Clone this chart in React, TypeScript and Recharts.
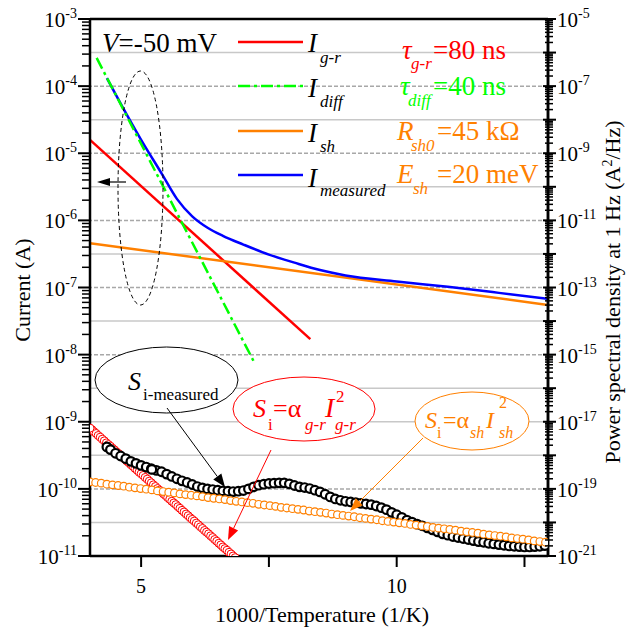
import React from 'react';
import { ComposedChart, Line, Scatter, XAxis, YAxis, ReferenceLine } from 'recharts';

const FONT = '"Liberation Serif", "Times New Roman", serif';
const RED = '#FF0000';
const GREEN = '#00FF00';
const ORANGE = '#FF8000';
const BLUE = '#0000FF';

// ---- Current curves: x = 1000/T (1/K), value = log10(I / A) ----
const grX = [4.0, 8.31];
const grLog = [-4.8, -7.77];
const diffX = [4.13, 7.23];
const diffLog = [-3.58, -8.14];
const shX = [4.0, 12.96];
const shLog = [-6.34, -7.26];
const measX = [4.33, 4.6, 5.0, 5.4, 5.7, 6.0, 6.3, 6.6, 7.0, 7.5, 8.0, 8.5, 9.0, 10.0, 11.0, 12.0, 12.96];
const measLog = [-3.88, -4.26, -4.8, -5.3, -5.68, -5.94, -6.11, -6.23, -6.36, -6.51, -6.63, -6.74, -6.82, -6.91, -6.99, -7.08, -7.17];

// ---- Noise spectra at 1 Hz: [x, log10(S / A^2Hz^-1)] (draw order as listed) ----
const sGr: number[][] = [
  [4.04, -17.24], [4.08, -17.3], [4.12, -17.35], [4.16, -17.41], [4.2, -17.46], [4.24, -17.52], [4.28, -17.57],
  [4.32, -17.63], [4.36, -17.68], [4.4, -17.73], [4.44, -17.79], [4.48, -17.84], [4.52, -17.9], [4.56, -17.95],
  [4.6, -18.01], [4.64, -18.06], [4.68, -18.11], [4.72, -18.17], [4.76, -18.22], [4.8, -18.28], [4.84, -18.33],
  [4.88, -18.39], [4.92, -18.44], [4.96, -18.5], [5.0, -18.55], [5.04, -18.6], [5.08, -18.66], [5.12, -18.71],
  [5.16, -18.77], [5.2, -18.82], [5.24, -18.88], [5.28, -18.93], [5.32, -18.99], [5.36, -19.04], [5.4, -19.09],
  [5.44, -19.15], [5.48, -19.2], [5.52, -19.26], [5.56, -19.31], [5.6, -19.37], [5.64, -19.42], [5.68, -19.47],
  [5.72, -19.53], [5.76, -19.58], [5.8, -19.64], [5.84, -19.69], [5.88, -19.75], [5.92, -19.8], [5.96, -19.86],
  [6.0, -19.91], [6.04, -19.96], [6.08, -20.02], [6.12, -20.07], [6.16, -20.13], [6.2, -20.18], [6.24, -20.24],
  [6.28, -20.29], [6.32, -20.34], [6.36, -20.4], [6.4, -20.45], [6.44, -20.51], [6.48, -20.56], [6.52, -20.62],
  [6.56, -20.67], [6.6, -20.73], [6.64, -20.78], [6.68, -20.83], [6.72, -20.89], [6.76, -20.94], [6.8, -21.0],
  [6.84, -21.05], [4.0, -17.19],
];

const sMeas: number[][] = [
  [4.33, -17.75], [4.4, -17.83], [4.5, -17.94], [4.6, -18.02], [4.7, -18.1], [4.8, -18.18], [4.9, -18.24],
  [5.0, -18.3], [5.1, -18.35], [5.2, -18.4], [5.3, -18.45], [5.4, -18.49], [5.5, -18.56], [5.6, -18.63],
  [5.7, -18.7], [5.8, -18.76], [5.9, -18.81], [6.0, -18.87], [6.1, -18.93], [6.2, -18.97], [6.3, -19.0],
  [6.4, -19.02], [6.5, -19.04], [6.6, -19.06], [6.7, -19.07], [6.8, -19.08], [6.9, -19.07], [7.0, -19.05],
  [7.1, -19.0], [7.2, -18.94], [7.3, -18.89], [7.4, -18.86], [7.5, -18.84], [7.6, -18.83], [7.7, -18.82],
  [7.8, -18.82], [7.9, -18.85], [8.0, -18.9], [8.1, -18.94], [8.2, -18.96], [8.3, -18.99], [8.4, -19.04],
  [8.5, -19.09], [8.6, -19.16], [8.7, -19.24], [8.8, -19.3], [8.9, -19.34], [9.0, -19.37], [9.1, -19.39],
  [9.2, -19.41], [9.3, -19.43], [9.4, -19.45], [9.5, -19.47], [9.6, -19.51], [9.7, -19.56], [9.8, -19.62],
  [9.9, -19.7], [10.0, -19.77], [10.1, -19.85], [10.2, -19.93], [10.3, -19.99], [10.4, -20.05], [10.5, -20.1],
  [10.6, -20.16], [10.7, -20.22], [10.8, -20.28], [10.9, -20.34], [11.0, -20.38], [11.1, -20.42], [11.2, -20.45],
  [11.3, -20.48], [11.4, -20.51], [11.5, -20.54], [11.6, -20.57], [11.7, -20.59], [11.8, -20.62], [11.9, -20.64],
  [12.0, -20.66], [12.1, -20.68], [12.2, -20.7], [12.3, -20.71], [12.4, -20.72], [12.5, -20.73], [12.6, -20.73],
  [12.7, -20.72], [12.8, -20.71], [12.9, -20.69], [5.21, -18.42],
];

const sSh: number[][] = [
  [4.0, -18.79], [4.11, -18.81], [4.22, -18.83], [4.33, -18.86], [4.44, -18.88], [4.55, -18.9], [4.66, -18.92],
  [4.77, -18.95], [4.88, -18.97], [4.99, -18.99], [5.1, -19.01], [5.21, -19.03], [5.32, -19.06], [5.43, -19.08],
  [5.54, -19.1], [5.65, -19.12], [5.76, -19.15], [5.87, -19.17], [5.98, -19.19], [6.09, -19.21], [6.2, -19.23],
  [6.31, -19.26], [6.42, -19.28], [6.53, -19.3], [6.64, -19.32], [6.75, -19.35], [6.86, -19.37], [6.97, -19.39],
  [7.08, -19.41], [7.19, -19.43], [7.3, -19.46], [7.41, -19.48], [7.52, -19.5], [7.63, -19.52], [7.74, -19.55],
  [7.85, -19.57], [7.96, -19.59], [8.07, -19.61], [8.18, -19.63], [8.29, -19.66], [8.4, -19.68], [8.51, -19.7],
  [8.62, -19.72], [8.73, -19.75], [8.84, -19.77], [8.95, -19.79], [9.06, -19.81], [9.17, -19.83], [9.28, -19.86],
  [9.39, -19.88], [9.5, -19.9], [9.61, -19.92], [9.72, -19.95], [9.83, -19.97], [9.94, -19.99], [10.05, -20.01],
  [10.16, -20.03], [10.27, -20.06], [10.38, -20.08], [10.49, -20.1], [10.6, -20.12], [10.71, -20.15], [10.82, -20.17],
  [10.93, -20.19], [11.04, -20.21], [11.15, -20.23], [11.26, -20.26], [11.37, -20.28], [11.48, -20.3], [11.59, -20.32],
  [11.7, -20.35], [11.81, -20.37], [11.92, -20.39], [12.03, -20.41], [12.14, -20.43], [12.25, -20.46], [12.36, -20.48],
  [12.47, -20.5], [12.58, -20.52], [12.69, -20.55], [12.8, -20.57], [12.91, -20.59],
];

// axis settings
const X_DOMAIN: [number, number] = [4, 12.96];
const X_TICKS = [5, 7.5, 10, 12.5];
const X_LABELED = [5, 10];
const I_DOMAIN: [number, number] = [-11, -3];
const S_DOMAIN: [number, number] = [-21, -5];
const GRID_DASHED = [-7, -9, -11, -13, -15, -19];
const GRID_SOLID = [-6, -8, -10, -12, -14, -16, -17, -18, -20];

const toPts = (xs: number[], ys: number[]) => xs.map((x, i) => ({ x, y: ys[i] }));
const pairPts = (arr: number[][]) => arr.map(([x, y]) => ({ x, y }));

const logTicks = (lo: number, hi: number) => {
  const t: number[] = [];
  for (let n = lo; n < hi; n++) {
    for (let k = 1; k <= 9; k++) t.push(n + Math.log10(k));
  }
  t.push(hi);
  return t;
};
const I_TICKS = logTicks(-11, -3);
const S_TICKS = logTicks(-21, -5);
const isInt = (v: number) => Math.abs(v - Math.round(v)) < 1e-6;

const LeftTick = (props: any) => {
  const { x, y, payload } = props;
  const v = payload.value;
  const major = isInt(v);
  return (
    <g>
      <line x1={x - (major ? 12 : 8)} x2={x} y1={y} y2={y} stroke="#000" strokeWidth={major ? 2 : 1.5} />
      {major && (
        <text x={x - 13} y={y + 8} textAnchor="end" fontFamily={FONT} fontSize={21} fill="#000">
          10<tspan dy={-9} fontSize={14}>{String(Math.round(v))}</tspan>
        </text>
      )}
    </g>
  );
};

const RightTick = (props: any) => {
  const { x, y, payload } = props;
  const v = payload.value;
  const major = isInt(v);
  const e = Math.round(v);
  return (
    <g>
      <line x1={x - (major ? 5 : 3)} x2={x + (major ? 8 : 5)} y1={y} y2={y} stroke="#000" strokeWidth={major ? 2 : 1.5} />
      {major && e % 2 !== 0 && (
        <text x={x + 9} y={y + 8} textAnchor="start" fontFamily={FONT} fontSize={21} fill="#000">
          10<tspan dy={-9} fontSize={14}>{String(e)}</tspan>
        </text>
      )}
    </g>
  );
};

const BottomTick = (props: any) => {
  const { x, y, payload } = props;
  const v = payload.value;
  return (
    <g>
      <line x1={x} x2={x} y1={y} y2={y + 11} stroke="#000" strokeWidth={2} />
      {X_LABELED.includes(v) && (
        <text x={x} y={y + 37} textAnchor="middle" fontFamily={FONT} fontSize={20} fill="#000">
          {String(v)}
        </text>
      )}
    </g>
  );
};

const circleShape = (stroke: string, r: number, sw: number) => (p: any) => (
  <circle cx={p.cx} cy={p.cy} r={r} fill="#fff" stroke={stroke} strokeWidth={sw} />
);

const Arrow = ({ x1, y1, x2, y2, color, len = 12, half = 4.5, sw = 1.2 }: any) => {
  const dx = x2 - x1;
  const dy = y2 - y1;
  const d = Math.hypot(dx, dy);
  const ux = dx / d;
  const uy = dy / d;
  const bx = x2 - ux * len;
  const by = y2 - uy * len;
  const px = -uy;
  const py = ux;
  return (
    <g>
      <line x1={x1} y1={y1} x2={bx} y2={by} stroke={color} strokeWidth={sw} />
      <polygon points={`${x2},${y2} ${bx + px * half},${by + py * half} ${bx - px * half},${by - py * half}`} fill={color} />
    </g>
  );
};

const T = (p: any) => <text fontFamily={FONT} {...p} />;

export default function App() {
  return (
    <div style={{ position: 'absolute', left: 0, top: 0, width: 627, height: 629, background: '#fff' }}>
      <ComposedChart width={627} height={629} margin={{ top: 19, right: 0, bottom: 0, left: 0 }}>
        <XAxis
          xAxisId="x"
          type="number"
          dataKey="x"
          domain={X_DOMAIN}
          allowDataOverflow
          ticks={X_TICKS}
          interval={0}
          height={73}
          tickSize={0}
          tickMargin={0}
          tickLine={false}
          tick={<BottomTick />}
          axisLine={{ stroke: '#000', strokeWidth: 2.5 }}
        />
        <YAxis
          yAxisId="I"
          orientation="left"
          type="number"
          dataKey="y"
          domain={I_DOMAIN}
          allowDataOverflow
          ticks={I_TICKS}
          interval={0}
          width={90}
          tickSize={0}
          tickMargin={0}
          tickLine={false}
          tick={<LeftTick />}
          axisLine={{ stroke: '#000', strokeWidth: 2.5 }}
        />
        <YAxis
          yAxisId="S"
          orientation="right"
          type="number"
          dataKey="y"
          domain={S_DOMAIN}
          allowDataOverflow
          ticks={S_TICKS}
          interval={0}
          width={79}
          tickSize={0}
          tickMargin={0}
          tickLine={false}
          tick={<RightTick />}
          axisLine={{ stroke: '#000', strokeWidth: 2.5 }}
        />
        {GRID_SOLID.map((e) => (
          <ReferenceLine key={'s' + e} xAxisId="x" yAxisId="S" y={e} stroke="#C8C8C8" strokeWidth={1.5} />
        ))}
        {GRID_DASHED.map((e) => (
          <ReferenceLine key={'d' + e} xAxisId="x" yAxisId="S" y={e} stroke="#A8A8A8" strokeWidth={1.5} strokeDasharray="4 2" />
        ))}
        <ReferenceLine xAxisId="x" yAxisId="I" y={I_DOMAIN[1]} stroke="#000" strokeWidth={2.5} />
        <ReferenceLine xAxisId="x" yAxisId="I" x={X_DOMAIN[1]} stroke="#000" strokeWidth={2.5} />

        <Scatter xAxisId="x" yAxisId="S" data={pairPts(sGr)} dataKey="y" isAnimationActive={false} shape={circleShape(RED, 4, 1)} />
        <Scatter xAxisId="x" yAxisId="S" data={pairPts(sMeas)} dataKey="y" isAnimationActive={false} shape={circleShape('#000', 4.3, 2.2)} />
        <Scatter xAxisId="x" yAxisId="S" data={pairPts(sSh)} dataKey="y" isAnimationActive={false} shape={circleShape(ORANGE, 3.8, 1.2)} />

        <Line xAxisId="x" yAxisId="I" data={toPts(grX, grLog)} dataKey="y" type="linear" stroke={RED} strokeWidth={2.5} dot={false} isAnimationActive={false} />
        <Line xAxisId="x" yAxisId="I" data={toPts(shX, shLog)} dataKey="y" type="linear" stroke={ORANGE} strokeWidth={2.5} dot={false} isAnimationActive={false} />
        <Line xAxisId="x" yAxisId="I" data={toPts(measX, measLog)} dataKey="y" type="monotone" stroke={BLUE} strokeWidth={2.5} dot={false} isAnimationActive={false} />
        <Line xAxisId="x" yAxisId="I" data={toPts(diffX, diffLog)} dataKey="y" type="linear" stroke={GREEN} strokeWidth={2.5} strokeDasharray="12 4 3 4" dot={false} isAnimationActive={false} />
      </ComposedChart>

      <svg width={627} height={629} style={{ position: 'absolute', left: 0, top: 0, pointerEvents: 'none' }}>
        {/* axis titles */}
        <T x={322} y={622} textAnchor="middle" fontSize={22} fill="#000">1000/Temperature (1/K)</T>
        <T transform="translate(30,290) rotate(-90)" textAnchor="middle" fontSize={22} fill="#000">Current (A)</T>
        <T transform="translate(620,292) rotate(-90)" textAnchor="middle" fontSize={22} fill="#000">
          Power spectral density at 1 Hz (A<tspan dy={-8} fontSize={14}>2</tspan><tspan dy={8}>/Hz)</tspan>
        </T>

        {/* legend */}
        <T x={102} y={52} fontSize={27} fill="#000"><tspan fontStyle="italic">V</tspan>=-50 mV</T>
        <line x1={238} x2={303} y1={42} y2={42} stroke={RED} strokeWidth={2.5} />
        <line x1={238} x2={303} y1={86} y2={86} stroke={GREEN} strokeWidth={2.5} strokeDasharray="12 4 3 4" />
        <line x1={238} x2={303} y1={131} y2={131} stroke={ORANGE} strokeWidth={2.5} />
        <line x1={238} x2={303} y1={175} y2={175} stroke={BLUE} strokeWidth={2.5} />
        <T x={308} y={52} fontSize={27} fontStyle="italic" fill="#000">I</T>
        <T x={320} y={63} fontSize={17} fontStyle="italic" fill="#000">g-r</T>
        <T x={308} y={97} fontSize={27} fontStyle="italic" fill="#000">I</T>
        <T x={320} y={107} fontSize={17} fontStyle="italic" fill="#000">diff</T>
        <T x={308} y={142} fontSize={27} fontStyle="italic" fill="#000">I</T>
        <T x={320} y={152} fontSize={17} fontStyle="italic" fill="#000">sh</T>
        <T x={308} y={187} fontSize={27} fontStyle="italic" fill="#000">I</T>
        <T x={320} y={196} fontSize={17} fontStyle="italic" fill="#000">measured</T>

        {/* parameters */}
        <T x={402} y={59} fontSize={27} fontStyle="italic" fill={RED}>τ</T>
        <T x={411} y={69} fontSize={17} fontStyle="italic" fill={RED}>g-r</T>
        <T x={433} y={59} fontSize={27} fill={RED}>=80 ns</T>
        <T x={400} y={95} fontSize={27} fontStyle="italic" fill={GREEN}>τ</T>
        <T x={408} y={106} fontSize={17} fontStyle="italic" fill={GREEN}>diff</T>
        <T x={433} y={95} fontSize={27} fill={GREEN}>=40 ns</T>
        <T x={397} y={140} fontSize={27} fontStyle="italic" fill={ORANGE}>R</T>
        <T x={411} y={151} fontSize={17} fontStyle="italic" fill={ORANGE}>sh0</T>
        <T x={437} y={140} fontSize={27} fill={ORANGE}>=45 kΩ</T>
        <T x={397} y={183} fontSize={27} fontStyle="italic" fill={ORANGE}>E</T>
        <T x={413} y={194} fontSize={17} fontStyle="italic" fill={ORANGE}>sh</T>
        <T x={437} y={183} fontSize={27} fill={ORANGE}>=20 meV</T>

        {/* dashed ellipse + left arrow */}
        <ellipse cx={140.5} cy={188} rx={22.5} ry={117} fill="none" stroke="#000" strokeWidth={1} strokeDasharray="4 3" />
        <Arrow x1={126} y1={182} x2={97} y2={182} color="#000" len={13} half={4} sw={1.2} />

        {/* S_i-measured */}
        <ellipse cx={166.5} cy={380} rx={71.5} ry={33} fill="#fff" stroke="#000" strokeWidth={1} />
        <T x={128} y={390} fontSize={26} fontStyle="italic" fill="#000">S</T>
        <T x={143} y={400} fontSize={17} fill="#000">i-measured</T>
        <Arrow x1={167} y1={408} x2={225} y2={487} color="#000" len={13} half={5} sw={1} />

        {/* S_i = a_gr I_gr^2 */}
        <ellipse cx={304} cy={409} rx={71} ry={32} fill="#fff" stroke={RED} strokeWidth={1} />
        <T x={253} y={417} fontSize={26} fontStyle="italic" fill={RED}>S</T>
        <T x={268} y={430} fontSize={17} fill={RED}>i</T>
        <T x={273} y={417} fontSize={26} fill={RED}>=α</T>
        <T x={305} y={430} fontSize={17} fontStyle="italic" fill={RED}>g-r</T>
        <T x={325} y={417} fontSize={28} fontStyle="italic" fill={RED}>I</T>
        <T x={336} y={402} fontSize={17} fill={RED}>2</T>
        <T x={335} y={430} fontSize={17} fontStyle="italic" fill={RED}>g-r</T>
        <Arrow x1={271} y1={450} x2={228} y2={540} color={RED} len={13} half={5} sw={1} />

        {/* S_i = a_sh I_sh^2 */}
        <ellipse cx={472} cy={421} rx={57} ry={29} fill="#fff" stroke={ORANGE} strokeWidth={1} />
        <T x={425} y={428} fontSize={24} fontStyle="italic" fill={ORANGE}>S</T>
        <T x={437} y={438} fontSize={16} fill={ORANGE}>i</T>
        <T x={443} y={428} fontSize={24} fill={ORANGE}>=α</T>
        <T x={470} y={438} fontSize={16} fontStyle="italic" fill={ORANGE}>sh</T>
        <T x={486} y={428} fontSize={24} fontStyle="italic" fill={ORANGE}>I</T>
        <T x={499} y={408} fontSize={16} fill={ORANGE}>2</T>
        <T x={499} y={438} fontSize={16} fontStyle="italic" fill={ORANGE}>sh</T>
        <Arrow x1={423} y1={438} x2={350} y2={511} color={ORANGE} len={13} half={5} sw={1} />
      </svg>
    </div>
  );
}
